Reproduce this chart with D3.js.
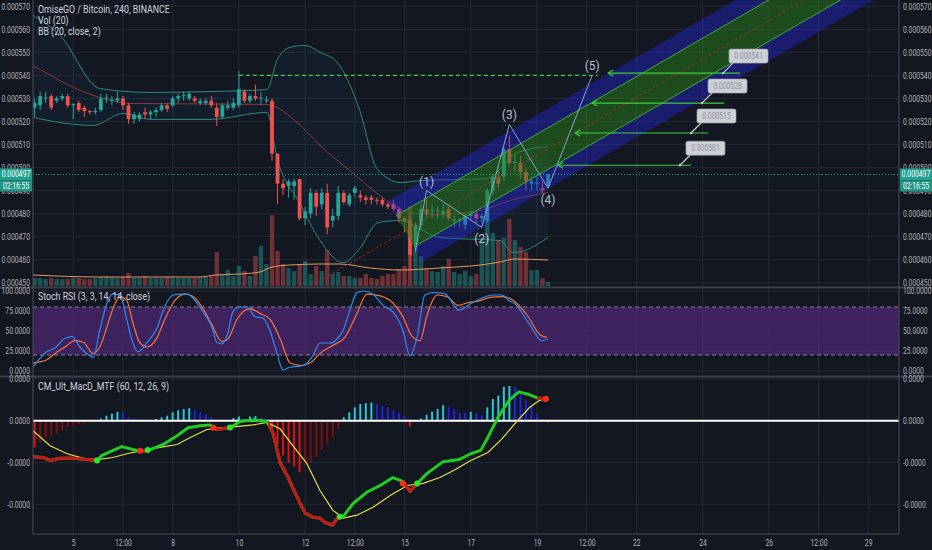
<!DOCTYPE html>
<html>
<head>
<meta charset="utf-8">
<script src="https://cdn.jsdelivr.net/npm/d3@7"></script>
<style>
  html, body { margin: 0; padding: 0; background: #131722; }
  svg { display: block; font-family: Roboto, "DejaVu Sans", sans-serif; }
</style>
</head>
<body>
<svg id="chart" width="932" height="550"></svg>
<script>
// 4h candles, prices in 1e-6 BTC : [open, high, low, close]
var candles = [
  [526,530,522,528],[527,533,525,531],[530,533,528,530.4],[531,532,525,526],[529,531,528,530],
  [530,532,529,531],[531,532,526,527],[527,528,521,527.5],[528,529,524,525],[526,527,522,524.5],
  [524.5,525,523,524],[524,526,523,524.5],[525,532,524,530],[530,532,528,530.4],[529,531,527,529.5],
  [529,533,528,530],[530,531,525,527],[527,528,519,521],[521,524,519,523],[521,524,520,523],
  [524,526,521,523],[523,525,521,524],[524,526,522,525],[525,528,524,527],[527,528,524,525.5],
  [527,531,526,530],[530,532,528,531],[531,533,529,531.4],[530,533,529,532],[530,531,528,529],
  [528,530,527,529],[528,530,527,529],[529,531,526,527],[526,528,518,522],[522,528,521,527],
  [526,529,525,527],[526,530,525,528],[527,542,526,534],[533,534,528,529],[529,532,528,531],
  [531,536,529,530],[530,533,527,530.4],[529,531,528,529.4],[529,530,503,506],[506,506,484,493],
  [493,495,488,491],[492,495,487,494],[492,495,486,494],[495,495,477,478],[478,483,475,481],
  [480,491,478,489],[489,490,479,483],[484,491,482,489],[489,493,471,474],[477,482,474,479],
  [479,492,477,489],[489,490,484,485],[484,489,483,488],[489,492,487,491],[488,490,485,487],
  [487,488,484,486],[487,488,484,486],[486,487,484,485.6],[486,487,483,484],[484,485,482,483],
  [484,486,481,482],[482,483,476,478],[478,479,472,477],[477,479,455,462],[466,476,463,475],
  [475,484,473,482],[482,486,478,480],[481,484,478,481.5],[481,483,478,481.4],[480,484,478,481],
  [482,483,477,478],[477,479,474,477.5],[477,478,474,477.4],[475,480,473,479],[479,481,477,480],
  [480,481,476,478],[478,480,476,479],[477,491,476,490],[490,497,488,496],[496,499,491,493],
  [496,509,494,508],[508,514,501,502],[502,506,498,502.4],[502,505,495,498],[498,500,490,494],
  [493,496,490,494],[493,496,490,493.4],[491,494,489,490],[492,497,491,497]
];
var volumes = [
  8,8,7,8,7,7,7,8,8,7,7,8,
  9,10,9,8,9,13,8,8,10,8,
  8,8,9,8,8,8,8,8,9,9,
  10,34,12,16,10,20,15,10,30,40,
  22,71,35,22,18,15,22,25,12,20,
  15,36,12,14,10,10,8,8,12,8,
  7,10,12,12,17,20,80,40,30,18,
  15,14,20,27,14,12,15,10,12,
  48,67,53,46,48,67,46,39,34,16,16,8,4
];
// [bar, value] points
var volMA = [[-0.3,11],[11.8,9],[30,9],[32.7,11],[37.2,12],[40.8,14],[43,19],[46.3,21],[51.7,22],
  [55.3,22],[60.8,18],[66.2,16],[73.4,18],[80.7,21],[84.3,24],[87,27],[93,26]];
var bbUpper = [[-0.3,566.1],[4.6,557.4],[11.8,534.3],[20.9,532.6],[31.8,533],[42.1,533.9],[43.9,546.5],
  [46.3,552.2],[49,553],[51.7,550],[54.8,545.7],[58.9,524.8],[62,499.6],[66.2,493.5],[69.8,494.3],
  [81.9,495.2],[87.4,506.5],[93,509.1]];
var bbBasis = [[-0.3,544.3],[11.8,530.4],[17.3,527.8],[42.1,527.4],[48.1,518.3],[51.7,509.6],
  [57.1,498.7],[63.8,485.7],[68,480.4],[73.4,479.6],[80.7,481.3],[86.1,485.7],[93,489.1]];
var bbLower = [[-0.3,521.7],[10.6,518.3],[16,523.5],[20.9,520.9],[31.8,520.9],[42.1,523.9],[43.9,504.3],
  [48.1,484.3],[51.7,468.3],[55.9,458.7],[58.9,464.8],[62.2,476.1],[66.2,477],[73.4,469.6],
  [84.3,468.3],[86.7,463],[93,469.6]];

var stochK = [[-0.3,5],[2.2,24],[3.7,29],[5.5,41],[6.8,43],[8.2,30],[10,19],[10.6,17],[11.8,51],[13.1,85],
  [14.2,96],[15.5,95],[16.7,64],[17.8,35],[18.7,24],[20.4,36],[22.2,54],[23.3,76],[25.1,95],[26.7,96],
  [27.8,96],[28.7,91],[30.5,74],[32.1,55],[33,36],[33.9,34],[35,47],[35.9,74],[37.2,80],[38.5,80],
  [39.9,68],[41.4,66],[42.6,51],[43.9,22],[45,1],[46.3,5],[48.1,6],[49,8],[50.3,18],[51.7,35],
  [53.5,35],[54.8,40],[55.9,51],[57.1,76],[58.4,98],[59.5,100],[61.3,96],[63.1,82],[64.9,74],[66.7,51],
  [68,19],[69.3,43],[70.7,95],[72,98],[74.2,97],[76.9,76],[79,84],[82.9,95],[84.7,95],[85.9,88],
  [87,84],[89.6,59],[91.9,38],[93,40]];
var stochD = [[-0.3,10],[2.2,14],[3.7,22],[5.5,30],[7.3,38],[8.8,36],[10.6,22],[11.8,30],[13.1,55],[14.2,78],
  [15.5,93],[16.7,88],[17.8,60],[19.1,35],[20.4,30],[22.2,42],[23.3,60],[25.1,85],[27.2,96],[28.7,93],
  [30.5,78],[32.1,58],[33.9,37],[35,40],[36.7,65],[39,78],[40.8,72],[42.6,65],[44.5,40],[46.3,10],
  [48.1,7],[50.3,12],[51.7,22],[54,32],[56.2,42],[58.4,72],[60.2,96],[62.6,94],[64.9,85],[66.7,68],
  [68.4,43],[69.8,38],[71.1,70],[72.9,95],[74.7,93],[76.7,82],[78.3,85],[80.7,88],[82.5,92],[84.9,93],
  [86.7,88],[89.2,70],[91.6,45],[92.8,42]];

// MACD values in 1e-6
var macdLine = [[-0.3,-0.86],[1.5,-0.88],[2.8,-0.95],[4.6,-0.9],[7,-0.9],[9.5,-0.93],[11.3,-0.95],[12.2,-0.83],
  [13.7,-0.74],[15.8,-0.62],[17.8,-0.69],[19.6,-0.74],[20.9,-0.69],[23.3,-0.57],[25.8,-0.36],[27.8,-0.17],
  [30,-0.12],[31.8,-0.1],[33,-0.21],[35.4,-0.17],[37.2,-0.02],[39.6,0.02],[42.1,-0.02],[43.2,-0.31],
  [44.5,-1.02],[45.9,-1.35],[46.8,-1.62],[48.1,-1.98],[49,-2.21],[50.4,-2.31],[51.7,-2.33],[52.6,-2.43],
  [53.9,-2.5],[55,-2.31],[55.9,-2.29],[57.7,-1.98],[60.2,-1.71],[62.6,-1.55],[64.9,-1.36],[66.7,-1.45],
  [68,-1.69],[69.3,-1.5],[71.1,-1.26],[74,-0.98],[76.9,-0.93],[79,-0.79],[80.8,-0.71],[82.1,-0.4],
  [83.9,0.07],[85.9,0.48],[87.7,0.69],[89.2,0.64],[91,0.55],[92.6,0.5]];
var macdSignal = [[-0.3,-0.24],[2.8,-0.6],[5.9,-0.79],[8.8,-0.9],[11.3,-0.93],[14.2,-0.88],[16.7,-0.79],
  [19.6,-0.71],[22.7,-0.64],[25.8,-0.57],[28.2,-0.4],[31.2,-0.21],[33.6,-0.17],[35.9,-0.15],[39.6,-0.1],
  [42.1,-0.04],[44.5,-0.2],[46.8,-0.6],[49.3,-1.02],[51.7,-1.67],[54,-2.14],[55.9,-2.33],[58.4,-2.26],
  [61.3,-2.07],[64.4,-1.79],[67.5,-1.55],[70.4,-1.5],[73.4,-1.36],[75.9,-1.19],[79,-0.95],[82.1,-0.76],
  [84.7,-0.43],[87,-0.07],[89.6,0.31],[91.4,0.48],[93,0.57]];
var macdHist = [
  -0.64,-0.52,-0.40,-0.36,-0.31,-0.24,-0.16,-0.12,-0.08,-0.06,-0.04,-0.02,
  0.05,0.12,0.17,0.21,0.20,0.08,0.04,0.02,0.01,0.01,
  0.04,0.08,0.12,0.20,0.25,0.28,0.30,0.25,0.20,0.16,0.08,0.02,
  -0.02,0.02,0.06,0.10,0.04,0.10,0.11,0.08,0.03,
  -0.28,-0.56,-0.83,-1.00,-1.10,-1.23,-1.07,-1.00,-0.87,-0.71,-0.56,-0.40,-0.20,
  0.08,0.20,0.32,0.40,0.42,0.43,0.40,0.36,0.32,0.25,0.20,0.10,
  -0.14,0.01,0.05,0.14,0.22,0.28,0.37,0.33,0.28,0.20,0.19,0.21,0.17,0.13,
  0.32,0.52,0.60,0.81,0.83,0.81,0.64,0.48,0.36,0.16,0.04,-0.04
];
// bar spans where the MACD line is below its signal (drawn red)
var macdRedSpans = [[-1,11.3],[19.1,20.5],[32.4,35.4],[42.3,55.2],[66.7,69.3],[91,95]];
var macdCrosses = [[11.3,-0.95,'up'],[19.1,-0.72,'down'],[20.5,-0.7,'up'],[32.4,-0.17,'down'],
  [35.4,-0.16,'up'],[55.3,-2.3,'up'],[66.7,-1.5,'down'],[69.3,-1.5,'up'],[92.6,0.52,'down']];

// drawings
var waveBars = [69, 71, 81, 86, 93, 101];
var wavePrices = [464, 490, 474, 518.7, 491, 540];
var waveNames = ['', '(1)', '(2)', '(3)', '(4)', '(5)'];
var channelMid = [[67.1, 472.3], [93.4, 508.8]];
var channelInner = 9.0, channelOuter = 17.4;
var breakLevel = 540, breakFrom = 37, breakTo = 102;
var targetLevels = [541, 528, 515, 501];
var targetFrom = [127.8, 124.9, 122, 118.9];
var targetTo = [103.9, 101, 97.9, 94.8];
var targetPin = [124.7, 120.9, 118.9, 116.9];
var lastPrice = 497, countdown = '02:16:55';

var firstDay = 3 + 5/6, barsPerDay = 6;
var dayTicks = [5, 6.5, 8, 10, 12, 13.5, 15, 17, 19, 20.5, 22, 24, 26, 27.5, 29];
var dayTickLabels = ['5','12:00','8','10','12','12:00','15','17','19','12:00','22','24','26','12:00','29'];
var priceTicks = d3.range(450, 571, 10);
var stochTicks = [0, 25, 50, 75, 100];
var stochBand = [20, 80];
var macdTicks = [1, 0, -1, -2];

var UP = '#26a69a', DN = '#ef5350', GRID = '#252934', AXT = '#b2b5be', LIME = '#3ccf3c';
var L = 33, R = 899;

var svg = d3.select('#chart');
svg.append('rect').attr('width', 932).attr('height', 550).attr('fill', '#131722');

var x = d3.scaleLinear().domain([3.784, 29.93]).range([L, R]);
function bx(i) { return x(firstDay + i / barsPerDay); }
var y = d3.scaleLinear().domain([450, 570]).range([282.7, 6.3]);
var yv = d3.scaleLinear().domain([0, 100]).range([286, 186]);
var ys = d3.scaleLinear().domain([0, 100]).range([371, 291]);
var ym = d3.scaleLinear().domain([-2.7, 1]).range([533.56, 378.9]);

function squeeze(sel, k) {
  sel.each(function() {
    var t = d3.select(this), tx = +t.attr('x') || 0;
    t.attr('transform', 'translate(' + tx + ',0) scale(' + k + ',1) translate(' + (-tx) + ',0)');
  });
}

var defs = svg.append('defs');
function clip(id, y0, y1) {
  defs.append('clipPath').attr('id', id).append('rect')
    .attr('x', L).attr('y', y0).attr('width', R - L).attr('height', y1 - y0);
}
clip('cMain', 0, 287); clip('cStoch', 288, 376); clip('cMacd', 377, 534);

// grid
var grid = svg.append('g').attr('stroke', GRID).attr('stroke-width', 1);
dayTicks.forEach(function(d) {
  grid.append('line').attr('x1', x(d)).attr('x2', x(d)).attr('y1', 0).attr('y2', 534);
});
priceTicks.forEach(function(p) {
  grid.append('line').attr('x1', L).attr('x2', R).attr('y1', y(p)).attr('y2', y(p));
});
stochTicks.forEach(function(v) {
  grid.append('line').attr('x1', L).attr('x2', R).attr('y1', ys(v)).attr('y2', ys(v));
});
macdTicks.forEach(function(v) {
  grid.append('line').attr('x1', L).attr('x2', R).attr('y1', ym(v)).attr('y2', ym(v));
});

// ---------- main panel ----------
var main = svg.append('g').attr('clip-path', 'url(#cMain)');
var pline = d3.line().x(function(d){ return bx(d[0]); }).y(function(d){ return y(d[1]); });

main.append('path')
  .attr('d', pline(bbUpper.concat(bbLower.slice().reverse())) + 'Z')
  .attr('fill', '#2196f3').attr('opacity', 0.05);

main.append('g').selectAll('rect').data(volumes).join('rect')
  .attr('x', function(d, i){ return bx(i) - 2.2; }).attr('width', 4.4)
  .attr('y', function(d){ return yv(d); }).attr('height', function(d){ return yv(0) - yv(d); })
  .attr('fill', function(d, i){ return candles[i][3] >= candles[i][0] ? UP : DN; })
  .attr('opacity', 0.42);

main.append('path').attr('d', d3.line().x(function(d){ return bx(d[0]); }).y(function(d){ return yv(d[1]); })
    .curve(d3.curveMonotoneX)(volMA))
  .attr('fill', 'none').attr('stroke', '#e59a5c').attr('stroke-width', 1);

var bbCurve = d3.line().x(function(d){ return bx(d[0]); }).y(function(d){ return y(d[1]); }).curve(d3.curveMonotoneX);
main.append('path').attr('d', bbCurve(bbUpper)).attr('fill', 'none').attr('stroke', '#2b8a80').attr('stroke-width', 1);
main.append('path').attr('d', bbCurve(bbLower)).attr('fill', 'none').attr('stroke', '#2b8a80').attr('stroke-width', 1);
main.append('path').attr('d', bbCurve(bbBasis)).attr('fill', 'none').attr('stroke', '#8e3838').attr('stroke-width', 1);

var gc = main.append('g');
gc.selectAll('line').data(candles).join('line')
  .attr('x1', function(d, i){ return bx(i); }).attr('x2', function(d, i){ return bx(i); })
  .attr('y1', function(d){ return y(d[1]); }).attr('y2', function(d){ return y(d[2]); })
  .attr('stroke', function(d){ return d[3] >= d[0] ? UP : DN; }).attr('stroke-width', 1);
gc.selectAll('rect').data(candles).join('rect')
  .attr('x', function(d, i){ return bx(i) - 1.9; }).attr('width', 3.8)
  .attr('y', function(d){ return y(Math.max(d[0], d[3])); })
  .attr('height', function(d){ return Math.max(1, Math.abs(y(d[0]) - y(d[3]))); })
  .attr('fill', function(d){ return d[3] >= d[0] ? UP : DN; });

// regression channel
var ax = bx(channelMid[0][0]), ay = y(channelMid[0][1]);
var slope = (y(channelMid[1][1]) - ay) / (bx(channelMid[1][0]) - ax);
var farX = 1000;
function edge(off) {
  var h = y(channelMid[0][1] - off) - ay;
  var t = h / (1 + slope * slope);
  return [[ax - slope * t, ay + t], [farX, ay + slope * (farX - ax) + h]];
}
function band(o1, o2) {
  var a = edge(o1), b = edge(o2);
  return 'M' + [a[0], a[1], b[1], b[0]].map(function(p){ return p.join(','); }).join('L') + 'Z';
}
main.append('path').attr('d', band(-channelOuter, -channelInner)).attr('fill', '#2a2aff').attr('opacity', 0.34);
main.append('path').attr('d', band(channelInner, channelOuter)).attr('fill', '#2a2aff').attr('opacity', 0.34);
main.append('path').attr('d', band(-channelInner, channelInner)).attr('fill', '#2a8018').attr('opacity', 0.5);
[-channelInner, channelInner].forEach(function(o) {
  var e = edge(o);
  main.append('line').attr('x1', e[0][0]).attr('y1', e[0][1]).attr('x2', e[1][0]).attr('y2', e[1][1])
    .attr('stroke', '#3fae3f').attr('stroke-width', 1);
});
var midLeft = bx(50);
main.append('line').attr('x1', midLeft).attr('y1', ay + slope * (midLeft - ax))
  .attr('x2', farX).attr('y2', ay + slope * (farX - ax))
  .attr('stroke', '#a83030').attr('stroke-width', 1).attr('stroke-dasharray', '3,2').attr('opacity', 0.85);

// breakout level
main.append('line').attr('x1', bx(breakFrom)).attr('x2', bx(breakTo))
  .attr('y1', y(breakLevel)).attr('y2', y(breakLevel))
  .attr('stroke', LIME).attr('stroke-width', 1.3).attr('stroke-dasharray', '4,3');

// elliott wave
var wave = waveBars.map(function(b, i){ return [b, wavePrices[i]]; });
main.append('path').attr('d', pline(wave)).attr('fill', 'none').attr('stroke', '#8aa4cc').attr('stroke-width', 1);
main.append('g').selectAll('text').data(wave.slice(1)).join('text')
  .attr('x', function(d){ return bx(d[0]); })
  .attr('y', function(d, i){ return y(d[1]) + (i % 2 === 0 ? -5 : 16); })
  .attr('text-anchor', 'middle').attr('fill', '#b4bfd4').style('font-size', '12px')
  .text(function(d, i){ return waveNames[i + 1]; });

// target arrows
targetLevels.forEach(function(p, i) {
  var yy = y(p), x0 = bx(targetFrom[i]), x1 = bx(targetTo[i]), xp = bx(targetPin[i]);
  var g = main.append('g');
  g.append('line').attr('x1', x0).attr('x2', x1).attr('y1', yy).attr('y2', yy)
    .attr('stroke', LIME).attr('stroke-width', 1.2);
  g.append('path').attr('d', 'M' + (x1 + 5) + ',' + (yy - 3) + 'L' + x1 + ',' + yy + 'L' + (x1 + 5) + ',' + (yy + 3))
    .attr('fill', 'none').attr('stroke', LIME).attr('stroke-width', 1.2);
  g.append('line').attr('x1', xp).attr('y1', yy).attr('x2', xp + 10).attr('y2', yy - 10)
    .attr('stroke', '#c5c8cf').attr('stroke-width', 1.2);
  g.append('circle').attr('cx', xp).attr('cy', yy).attr('r', 1.2).attr('fill', '#c5c8cf');
  g.append('rect').attr('x', xp + 6).attr('y', yy - 24).attr('width', 39).attr('height', 14).attr('rx', 2)
    .attr('fill', '#cdd0d6').attr('stroke', '#a5a8b0').attr('stroke-width', 0.6);
  var t = g.append('text').attr('x', xp + 25.5).attr('y', yy - 14).attr('text-anchor', 'middle')
    .attr('fill', '#8d919b').style('font-size', '8.5px').text((p / 1e6).toFixed(6));
  squeeze(t, 0.8);
});

// last price line
main.append('line').attr('x1', L).attr('x2', R).attr('y1', y(lastPrice)).attr('y2', y(lastPrice))
  .attr('stroke', UP).attr('stroke-width', 1).attr('stroke-dasharray', '1,2');

// ---------- stoch RSI ----------
var st = svg.append('g').attr('clip-path', 'url(#cStoch)');
st.append('rect').attr('x', L).attr('width', R - L)
  .attr('y', ys(stochBand[1])).attr('height', ys(stochBand[0]) - ys(stochBand[1]))
  .attr('fill', '#5b2a86').attr('opacity', 0.6);
stochBand.forEach(function(v) {
  st.append('line').attr('x1', L).attr('x2', R).attr('y1', ys(v)).attr('y2', ys(v))
    .attr('stroke', '#8a7f96').attr('stroke-dasharray', '4,3').attr('stroke-width', 1);
});
var sline = d3.line().x(function(d){ return bx(d[0]); }).y(function(d){ return ys(d[1]); }).curve(d3.curveMonotoneX);
st.append('path').attr('d', sline(stochD)).attr('fill', 'none').attr('stroke', '#f5743e').attr('stroke-width', 1.2);
st.append('path').attr('d', sline(stochK)).attr('fill', 'none').attr('stroke', '#2a8cf0').attr('stroke-width', 1.2);

// ---------- MACD ----------
var md = svg.append('g').attr('clip-path', 'url(#cMacd)');
md.append('g').selectAll('rect').data(macdHist).join('rect')
  .attr('x', function(d, i){ return bx(i) - 1; }).attr('width', 2)
  .attr('y', function(d){ return Math.min(ym(d), ym(0)); })
  .attr('height', function(d){ return Math.abs(ym(d) - ym(0)); })
  .attr('fill', function(d, i) {
    var prev = i > 0 ? macdHist[i - 1] : d;
    if (d >= 0) return d >= prev ? '#2bc6d8' : '#2222dd';
    return d <= prev ? '#e01010' : '#7d0e0e';
  });
md.append('line').attr('x1', L).attr('x2', R).attr('y1', ym(0)).attr('y2', ym(0))
  .attr('stroke', '#ffffff').attr('stroke-width', 2);
var mline = d3.line().x(function(d){ return bx(d[0]); }).y(function(d){ return ym(d[1]); }).curve(d3.curveLinear);
md.append('path').attr('d', mline(macdSignal)).attr('fill', 'none').attr('stroke', '#e3df4a').attr('stroke-width', 1.2);
md.append('path').attr('d', mline(macdLine)).attr('fill', 'none').attr('stroke', '#22cc22').attr('stroke-width', 3)
  .attr('stroke-linejoin', 'round');
var redClip = defs.append('clipPath').attr('id', 'cRed');
macdRedSpans.forEach(function(s) {
  redClip.append('rect').attr('x', bx(s[0])).attr('width', bx(s[1]) - bx(s[0])).attr('y', 377).attr('height', 157);
});
md.append('g').attr('clip-path', 'url(#cRed)').append('path').attr('d', mline(macdLine))
  .attr('fill', 'none').attr('stroke', '#cf1515').attr('stroke-width', 3).attr('stroke-linejoin', 'round');
md.append('g').selectAll('circle').data(macdCrosses).join('circle')
  .attr('cx', function(d){ return bx(d[0]); }).attr('cy', function(d){ return ym(d[1]); }).attr('r', 3)
  .attr('fill', function(d){ return d[2] === 'up' ? '#2ee62e' : '#ff2a1a'; });

// ---------- frame & axes ----------
var frame = svg.append('g').attr('stroke', '#3c404b');
frame.append('line').attr('x1', 0).attr('x2', 932).attr('y1', 287.5).attr('y2', 287.5).attr('stroke-width', 2);
frame.append('line').attr('x1', 0).attr('x2', 932).attr('y1', 376.5).attr('y2', 376.5).attr('stroke-width', 2);
frame.append('line').attr('x1', L).attr('x2', R).attr('y1', 534).attr('y2', 534).attr('stroke', '#4a4e59');
frame.append('line').attr('x1', L).attr('x2', L).attr('y1', 0).attr('y2', 534).attr('stroke', '#4a4e59');
frame.append('line').attr('x1', R).attr('x2', R).attr('y1', 0).attr('y2', 534).attr('stroke', '#4a4e59');

function styleAxis(g) {
  g.select('.domain').remove();
  g.selectAll('text').attr('fill', AXT).style('font-size', '8.5px').style('font-family', 'Roboto, "DejaVu Sans", sans-serif');
  squeeze(g.selectAll('text'), 0.8);
}
var fPrice = function(d){ return (d / 1e6).toFixed(6); };
var fStoch = function(d){ return d.toFixed(4); };
var fMacd = function(d){ return (d / 1e6).toFixed(4); };
[[d3.axisLeft, L, 3], [d3.axisRight, R, 4]].forEach(function(a) {
  svg.append('g').attr('transform', 'translate(' + a[1] + ',0)')
    .call(a[0](y).tickValues(priceTicks).tickFormat(fPrice).tickSize(0).tickPadding(a[2])).call(styleAxis);
  svg.append('g').attr('transform', 'translate(' + a[1] + ',0)')
    .call(a[0](ys).tickValues(stochTicks).tickFormat(fStoch).tickSize(0).tickPadding(a[2])).call(styleAxis);
  svg.append('g').attr('transform', 'translate(' + a[1] + ',0)')
    .call(a[0](ym).tickValues(macdTicks).tickFormat(fMacd).tickSize(0).tickPadding(a[2])).call(styleAxis);
});
svg.append('g').attr('transform', 'translate(0,534)')
  .call(d3.axisBottom(x).tickValues(dayTicks).tickFormat(function(d, i){ return dayTickLabels[i]; })
    .tickSize(0).tickPadding(6))
  .call(styleAxis);

// last price tags on both scales
[[0, 32], [R + 1, 932]].forEach(function(s) {
  var yy = y(lastPrice);
  svg.append('rect').attr('x', s[0]).attr('y', yy - 6).attr('width', s[1] - s[0]).attr('height', 12).attr('fill', '#22a090');
  svg.append('rect').attr('x', s[0]).attr('y', yy + 6).attr('width', s[1] - s[0]).attr('height', 11).attr('fill', '#1f9686');
  var cx = (s[0] + s[1]) / 2;
  squeeze(svg.append('text').attr('x', cx).attr('y', yy + 3).attr('text-anchor', 'middle').attr('fill', '#ffffff')
    .style('font-size', '8.5px').text(fPrice(lastPrice)), 0.8);
  squeeze(svg.append('text').attr('x', cx).attr('y', yy + 14.5).attr('text-anchor', 'middle').attr('fill', '#ffffff')
    .style('font-size', '8.5px').text(countdown), 0.8);
});

// legends
var legends = [
  ['OmiseGO / Bitcoin, 240, BINANCE', 13.5],
  ['Vol (20)', 24.5],
  ['BB (20, close, 2)', 35.5],
  ['Stoch RSI (3, 3, 14, 14, close)', 300],
  ['CM_Ult_MacD_MTF (60, 12, 26, 9)', 390]
];
legends.forEach(function(l) {
  squeeze(svg.append('text').attr('x', 38).attr('y', l[1]).attr('fill', '#d1d4dc')
    .style('font-size', '10px').text(l[0]), 0.88);
});
</script>
</body>
</html>
